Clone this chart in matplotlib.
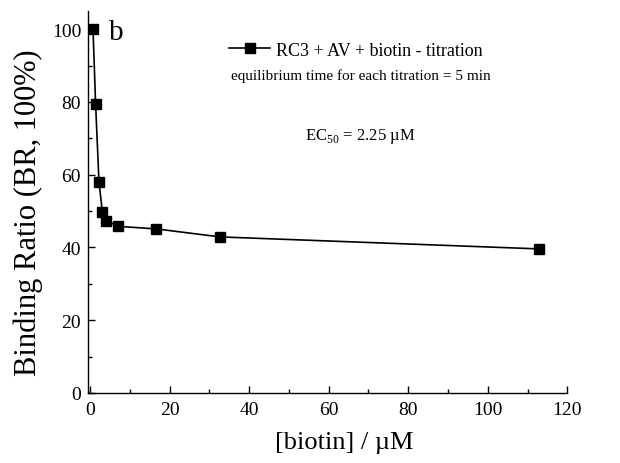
import matplotlib.pyplot as plt
from matplotlib.ticker import MultipleLocator

plt.rcParams['font.family'] = ['Liberation Serif', 'DejaVu Serif']
plt.rcParams['mathtext.fontset'] = 'custom'
plt.rcParams['mathtext.rm'] = 'Liberation Serif'

# biotin concentration (uM) vs binding ratio (%)
biotin = [0.75, 1.4, 2.25, 3.1, 3.9, 7.1, 16.7, 32.7, 113]
binding = [100, 79.5, 58, 49.8, 47.4, 45.8, 45.1, 42.9, 39.6]

fig = plt.figure(figsize=(6.2, 4.64), dpi=100)
ax = fig.add_axes([0.142, 0.151, 0.773, 0.823])

ax.plot(biotin, binding, '-s', color='black', lw=1.2, ms=6.5,
        label='RC3 + AV + biotin - titration')

ax.set_xlim(-0.5, 120)
ax.set_ylim(0, 105)
ax.xaxis.set_major_locator(MultipleLocator(20))
ax.xaxis.set_minor_locator(MultipleLocator(10))
ax.yaxis.set_major_locator(MultipleLocator(20))
ax.yaxis.set_minor_locator(MultipleLocator(10))
ax.tick_params(which='both', direction='in', width=1.0, labelsize=14)
ax.tick_params(which='major', length=5)
ax.tick_params(which='minor', length=3)
ax.tick_params(axis='x', which='major', pad=6)
ax.tick_params(axis='y', which='major', pad=5)
for s in ['top', 'right']:
    ax.spines[s].set_visible(False)
for s in ['left', 'bottom']:
    ax.spines[s].set_linewidth(1.0)

ax.set_xlabel('[biotin] / \u00b5M', fontsize=19, labelpad=6)
ax.set_ylabel('Binding Ratio (BR, 100%)', fontsize=22, labelpad=4)
ax.xaxis.set_label_coords(0.535, -0.1)
ax.yaxis.set_label_coords(-0.093, 0.475)

ax.text(0.043, 0.978, 'b', transform=ax.transAxes, fontsize=21, va='top')

leg = ax.legend(loc='upper left', bbox_to_anchor=(0.294, 0.92), frameon=False,
                fontsize=13, handlelength=2.3, handletextpad=0.3,
                numpoints=1, borderaxespad=0, borderpad=0)
ax.text(0.2985, 0.832, 'equilibrium time for each titration = 5 min',
        transform=ax.transAxes, fontsize=11, va='center')
ax.text(0.568, 0.673, 'EC$_{50}$ = 2.25 \u00b5M', transform=ax.transAxes,
        fontsize=12, va='center', ha='center')

fig.savefig('out.png', dpi=100)
